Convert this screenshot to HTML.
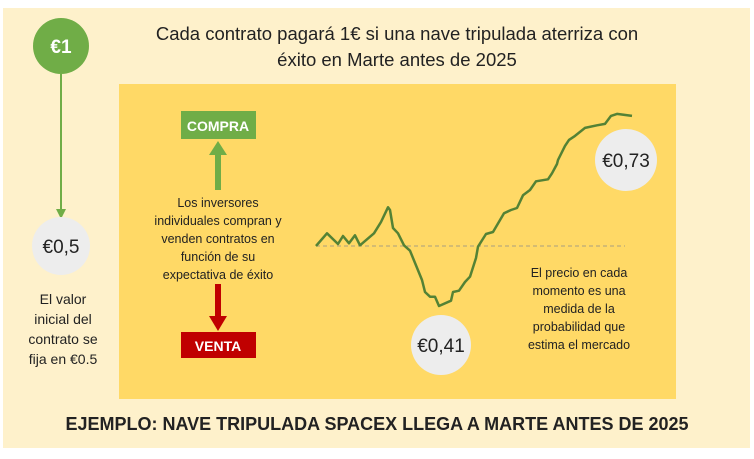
<!DOCTYPE html>
<html><head><meta charset="utf-8"><style>
body{margin:0;width:754px;height:454px;background:#fff;font-family:"Liberation Sans",sans-serif;overflow:hidden}
</style></head><body>
<svg width="754" height="454" viewBox="0 0 754 454">
<rect x="3" y="8" width="747" height="440" fill="#FEF1CB"/>
<rect x="119" y="84" width="557" height="315" fill="#FFD966"/>
<g font-family="Liberation Sans, sans-serif" fill="#222" text-anchor="middle" font-size="18.5">
<text x="397" y="40">Cada contrato pagará 1€ si una nave tripulada aterriza con</text>
<text x="397" y="66">éxito en Marte antes de 2025</text>
</g>
<circle cx="61" cy="46" r="28" fill="#70AD47"/>
<text x="61" y="53" font-size="19" font-weight="bold" fill="#fff" text-anchor="middle">€1</text>
<line x1="61" y1="74" x2="61" y2="210" stroke="#70AD47" stroke-width="2"/>
<polygon points="56,209 66,209 61,219" fill="#70AD47"/>
<circle cx="61" cy="246" r="29" fill="#EDEDED"/>
<text x="61" y="253" font-size="19" fill="#222" text-anchor="middle">€0,5</text>
<g font-size="14" fill="#222" text-anchor="middle">
<text x="63" y="304">El valor</text><text x="63" y="324">inicial del</text><text x="63" y="344">contrato se</text><text x="63" y="364">fija en €0.5</text>
</g>
<rect x="181" y="111" width="75" height="28" fill="#70AD47"/>
<text x="218" y="131" font-size="14" font-weight="bold" fill="#fff" text-anchor="middle">COMPRA</text>
<rect x="215" y="154" width="6" height="36" fill="#70AD47"/>
<polygon points="209,155 227,155 218,141" fill="#70AD47"/>
<g font-size="12.5" fill="#222" text-anchor="middle">
<text x="218" y="207">Los inversores</text><text x="218" y="225">individuales compran y</text><text x="218" y="243">venden contratos en</text><text x="218" y="261">función de su</text><text x="218" y="279">expectativa de éxito</text>
</g>
<rect x="215" y="284" width="6" height="34" fill="#C00000"/>
<polygon points="209,316 227,316 218,331" fill="#C00000"/>
<rect x="181" y="332" width="75" height="26" fill="#C00000"/>
<text x="218" y="351" font-size="14" font-weight="bold" fill="#fff" text-anchor="middle">VENTA</text>
<line x1="316" y1="246" x2="625" y2="246" stroke="#A89E80" stroke-width="1" stroke-dasharray="4,3"/>
<g id="series"></g>
<circle cx="626" cy="160" r="31" fill="#EDEDED"/>
<text x="626" y="167" font-size="19" fill="#222" text-anchor="middle">€0,73</text>
<circle cx="441" cy="345" r="30" fill="#EDEDED"/>
<text x="441" y="352" font-size="19" fill="#222" text-anchor="middle">€0,41</text>
<g font-size="12.5" fill="#222" text-anchor="middle">
<text x="579" y="277">El precio en cada</text><text x="579" y="295">momento es una</text><text x="579" y="313">medida de la</text><text x="579" y="331">probabilidad que</text><text x="579" y="349">estima el mercado</text>
</g>
<text x="377" y="430" font-size="18" font-weight="bold" fill="#222" text-anchor="middle">EJEMPLO: NAVE TRIPULADA SPACEX LLEGA A MARTE ANTES DE 2025</text>
</svg>
<script>
const times=[0,11,22,27,33,39,44,58,65,72,74,77,82,88,94,106,109,114,119,123,135,137,143,149,154,160,162,170,177,188,195,201,207,214,220,232,236,241,242,249,253,259,269,281,289,295,301,316];
const prices=[.500,.519,.503,.515,.504,.516,.501,.519,.536,.558,.554,.527,.519,.501,.493,.449,.431,.424,.424,.410,.418,.431,.433,.446,.454,.482,.499,.518,.521,.549,.554,.557,.576,.584,.597,.600,.609,.623,.629,.650,.659,.665,.677,.681,.683,.695,.698,.695];
function xScale(t){return 316+t*(632-316)/316;}
function yScale(v){return 246-(v-0.5)*667;}
const g=document.getElementById('series');
const p=document.createElementNS('http://www.w3.org/2000/svg','path');
p.setAttribute('d',prices.map((v,i)=>(i?'L':'M')+xScale(times[i]).toFixed(1)+','+yScale(v).toFixed(1)).join(''));
p.setAttribute('fill','none');p.setAttribute('stroke','#548235');p.setAttribute('stroke-width','2.5');p.setAttribute('stroke-linejoin','round');


g.appendChild(p);
</script>
</body></html>
